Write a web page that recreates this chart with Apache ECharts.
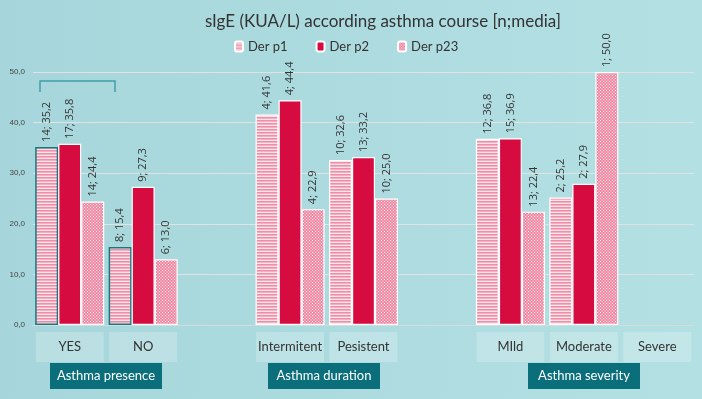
<!DOCTYPE html>
<html>
<head>
<meta charset="UTF-8">
<title>sIgE asthma course</title>
<style>
    html, body { margin: 0; padding: 0; background: #eef6f7; }
    #chartArea { position: absolute; top: 0; left: 0; width: 702px; height: 399px; }
</style>
</head>
<body>
<div id="chartArea"></div>
<script src="https://cdn.jsdelivr.net/npm/echarts@6/dist/echarts.min.js"></script>
<script>
// categories (empty ones are the gaps between groups)
var categories = ['YES', 'NO', '', 'Intermitent', 'Pesistent', '', 'MIld', 'Moderate', 'Severe'];
var seriesNames = ['Der p1', 'Der p2', 'Der p23'];
var derP1 = [35.2, 15.4, null, 41.6, 32.6, null, 36.8, 25.2, null];
var derP2 = [35.8, 27.3, null, 44.4, 33.2, null, 36.9, 27.9, null];
var derP23 = [24.4, 13.0, null, 22.9, 25.0, null, 22.4, 50.0, null];
var nP1 = [14, 8, null, 4, 10, null, 12, 2, null];
var nP2 = [17, 9, null, 4, 13, null, 15, 2, null];
var nP23 = [14, 6, null, 4, 10, null, 13, 1, null];
var yTicks = [0, 10, 20, 30, 40, 50];
var groupLabels = ['Asthma presence', 'Asthma duration', 'Asthma severity'];

function stripes() {
    var c = document.createElement('canvas');
    c.width = 4; c.height = 3;
    var g = c.getContext('2d');
    g.fillStyle = '#fbe3ea'; g.fillRect(0, 0, 4, 3);
    g.fillStyle = '#ee8fa8'; g.fillRect(0, 0, 4, 1.6);
    return { image: c, repeat: 'repeat' };
}
function dots() {
    var c = document.createElement('canvas');
    c.width = 3; c.height = 3;
    var g = c.getContext('2d');
    g.fillStyle = '#ee8aa4'; g.fillRect(0, 0, 3, 3);
    g.fillStyle = '#fde8ee'; g.fillRect(0, 0, 1, 1); g.fillRect(1.5, 1.5, 1, 1);
    return { image: c, repeat: 'repeat' };
}
function fmt(v) { return v.toFixed(1).replace('.', ','); }

var fills = [stripes(), '#d60b3f', dots()];
var values = [derP1, derP2, derP23];
var counts = [nP1, nP2, nP23];

var myChart = echarts.init(document.getElementById('chartArea'));

var series = values.map(function (vals, s) {
    return {
        name: seriesNames[s],
        type: 'bar',
        barGap: '0%',
        barCategoryGap: '6%',
        data: vals.map(function (v, i) {
            var item = { value: v };
            if (s === 0 && i < 2) {
                item.itemStyle = { borderColor: '#177880', borderWidth: 1.5 };
            }
            return item;
        }),
        itemStyle: { color: fills[s], borderColor: '#ffffff', borderWidth: 1.2 },
        label: {
            show: true,
            position: 'top',
            rotate: 90,
            align: 'left',
            verticalAlign: 'middle',
            distance: 5,
            fontSize: 11,
            color: '#333',
            fontFamily: 'Open Sans',
            formatter: function (p) {
                if (p.value == null) return '';
                return counts[s][p.dataIndex] + '; ' + fmt(p.value);
            }
        }
    };
});

var graphics = [
    // bracket above the YES group
    { type: 'polyline', shape: { points: [[40, 92], [40, 81], [115, 81], [115, 92]] },
      style: { stroke: '#3f9ea5', lineWidth: 1.5, fill: null } }
];
var boxX = [50, 268, 528];
groupLabels.forEach(function (t, i) {
    graphics.push({ type: 'rect', shape: { x: boxX[i], y: 363, width: 112, height: 26 },
                    style: { fill: '#0b6f7b' } });
    graphics.push({ type: 'text', x: boxX[i] + 56, y: 376,
                    style: { text: t, fill: '#ffffff', fontSize: 13, fontFamily: 'Lato',
                             align: 'center', verticalAlign: 'middle' } });
});

myChart.setOption({
    backgroundColor: {
        type: 'linear', x: 0, y: 0, x2: 1, y2: 0,
        colorStops: [{ offset: 0, color: '#a6d6db' }, { offset: 1, color: '#b3e0e3' }]
    },
    title: {
        text: 'sIgE (KUA/L) according asthma course [n;media]',
        left: 200,
        top: 8,
        textStyle: { fontSize: 17, fontWeight: 'normal', color: '#333', fontFamily: 'Lato' }
    },
    legend: {
        left: 229,
        top: 35,
        itemWidth: 8,
        itemHeight: 10,
        itemGap: 28,
        textStyle: { fontSize: 13, color: '#333', fontFamily: 'Lato' },
        data: seriesNames
    },
    grid: { left: 33, right: 8, top: 72, bottom: 74 },
    xAxis: {
        type: 'category',
        data: categories,
        axisTick: { show: false },
        axisLine: { lineStyle: { color: '#d5dcdd' } },
        axisLabel: {
            interval: 0,
            margin: 7,
            formatter: function (v) { return v ? '{b|' + v + '}' : ''; },
            rich: {
                b: { width: 68, height: 30, lineHeight: 30, align: 'center',
                     backgroundColor: 'rgba(255,255,255,0.22)',
                     fontSize: 13, color: '#333', fontFamily: 'Lato' }
            }
        }
    },
    yAxis: {
        type: 'value',
        min: yTicks[0],
        max: yTicks[yTicks.length - 1],
        interval: 10,
        axisLabel: { fontSize: 8, color: '#444', formatter: fmt, margin: 8 },
        splitLine: { lineStyle: { color: '#e2e2e2' } }
    },
    graphic: graphics,
    series: series
});
</script>
</body>
</html>
